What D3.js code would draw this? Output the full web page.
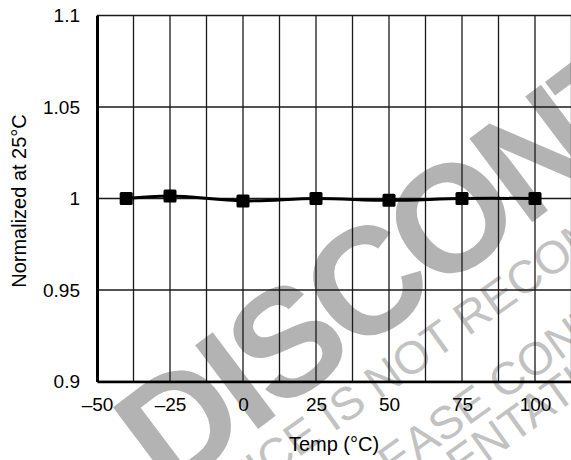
<!DOCTYPE html>
<html lang="en">
<head>
    <title>Normalized vs Temp</title>
    <script src="https://d3js.org/d3.v7.min.js"></script>
    <style>
        body { margin: 0; background: #fff; }
        svg { display: block; font-family: "Liberation Sans", Arial, sans-serif; }
    </style>
</head>
<body>
    <svg id="chart"></svg>

    <script>
        // data
        var temps = [-40, -25, 0, 25, 50, 75, 100];
        var normalized = [1.0, 1.0014, 0.9987, 1.0, 0.999, 1.0, 1.0];

        var xTicks = [-50, -25, 0, 25, 50, 75, 100];
        var xTickLabels = ["\u201350", "\u201325", "0", "25", "50", "75", "100"];
        var yTicks = [0.9, 0.95, 1, 1.05, 1.1];
        var yTickLabels = ["0.9", "0.95", "1", "1.05", "1.1"];

        var width = 571;
        var height = 460;
        var margins = { left: 97, top: 15.5, right: -37, bottom: 78.5 };

        var svg = d3.select("#chart")
            .attr("width", width)
            .attr("height", height);

        var xscale = d3.scaleLinear()
            .domain([-50, 125])
            .range([margins.left, width - margins.right]);
        var yscale = d3.scaleLinear()
            .domain([0.9, 1.1])
            .range([height - margins.bottom, margins.top]);

        // watermark, drawn first so the chart sits on top.
        // idx = the letter whose centre goes to (cx, cy)
        function stamp(str, idx, cx, cy, angle, size, weight, color, spacing) {
            var g = svg.append("g")
                .attr("transform", "translate(" + cx + "," + cy + ") rotate(" + angle + ")");
            var t = g.append("text")
                .text(str)
                .attr("font-size", size)
                .attr("font-weight", weight)
                .attr("letter-spacing", spacing || 0)
                .attr("fill", color)
                .attr("dy", "0.36em");
            var n = t.node();
            var a = n.getStartPositionOfChar(idx).x;
            var b = n.getEndPositionOfChar(idx).x;
            t.attr("x", -(a + b) / 2);
        }
        stamp("DISCONTINUED", 4, 447, 218, -37, 152, "bold", "#b3b3b3", -7);
        stamp("THIS DEVICE IS NOT RECOMMENDED FOR NEW DESIGNS", 15, 383, 377, -35.5, 46, "normal", "#c2c2c2");
        stamp("PLEASE CONTACT YOUR LOCAL", 7, 507, 378, -35.5, 46, "normal", "#c2c2c2");
        stamp("SALES REPRESENTATIVE", 13, 490, 440, -35.5, 46, "normal", "#c2c2c2");

        // grid
        var xGrid = d3.range(-50, 125.1, 12.5);
        svg.append("g")
            .selectAll("line")
            .data(xGrid)
            .enter()
            .append("line")
            .attr("x1", function (d) { return xscale(d); })
            .attr("x2", function (d) { return xscale(d); })
            .attr("y1", yscale(0.9))
            .attr("y2", yscale(1.1))
            .attr("stroke", "#1a1a1a")
            .attr("stroke-width", 1.3);

        svg.append("g")
            .selectAll("line")
            .data(yTicks)
            .enter()
            .append("line")
            .attr("x1", xscale(-50))
            .attr("x2", xscale(125))
            .attr("y1", function (d) { return yscale(d); })
            .attr("y2", function (d) { return yscale(d); })
            .attr("stroke", "#1a1a1a")
            .attr("stroke-width", function (d) { return d === 1.1 ? 1.6 : 1.3; });

        // axes
        var xaxis = d3.axisBottom(xscale)
            .tickValues(xTicks)
            .tickSize(0)
            .tickPadding(16)
            .tickFormat(function (d, i) { return xTickLabels[i]; });
        var yaxis = d3.axisLeft(yscale)
            .tickValues(yTicks)
            .tickSize(0)
            .tickPadding(17)
            .tickFormat(function (d, i) { return yTickLabels[i]; });

        var gx = svg.append("g")
            .attr("transform", "translate(0," + yscale(0.9) + ")")
            .call(xaxis);
        var gy = svg.append("g")
            .attr("transform", "translate(" + xscale(-50) + ",0)")
            .call(yaxis);

        gx.select(".domain").attr("stroke", "#000").attr("stroke-width", 2.6);
        gy.select(".domain").attr("stroke", "#000").attr("stroke-width", 3);
        gx.selectAll("text").attr("font-size", 19).attr("fill", "#000")
            .attr("font-family", "Liberation Sans, Arial, sans-serif");
        gy.selectAll("text").attr("font-size", 19).attr("fill", "#000")
            .attr("font-family", "Liberation Sans, Arial, sans-serif");

        // series
        var pts = temps.map(function (t, i) { return [t, normalized[i]]; });
        var line = d3.line()
            .x(function (d) { return xscale(d[0]); })
            .y(function (d) { return yscale(d[1]); })
            .curve(d3.curveCatmullRom);

        svg.append("path")
            .datum(pts)
            .attr("d", line)
            .attr("fill", "none")
            .attr("stroke", "#000")
            .attr("stroke-width", 3);

        svg.append("g")
            .selectAll("rect")
            .data(pts)
            .enter()
            .append("rect")
            .attr("x", function (d) { return xscale(d[0]) - 6.5; })
            .attr("y", function (d) { return yscale(d[1]) - 6.5; })
            .attr("width", 13)
            .attr("height", 13)
            .attr("rx", 1.5)
            .attr("fill", "#000");

        // titles
        svg.append("text")
            .attr("x", 334)
            .attr("y", 451)
            .attr("text-anchor", "middle")
            .attr("font-size", 20)
            .text("Temp (\u00B0C)");

        svg.append("text")
            .attr("transform", "translate(26,201) rotate(-90)")
            .attr("text-anchor", "middle")
            .attr("font-size", 20)
            .text("Normalized at 25\u00B0C");
    </script>
</body>
</html>
